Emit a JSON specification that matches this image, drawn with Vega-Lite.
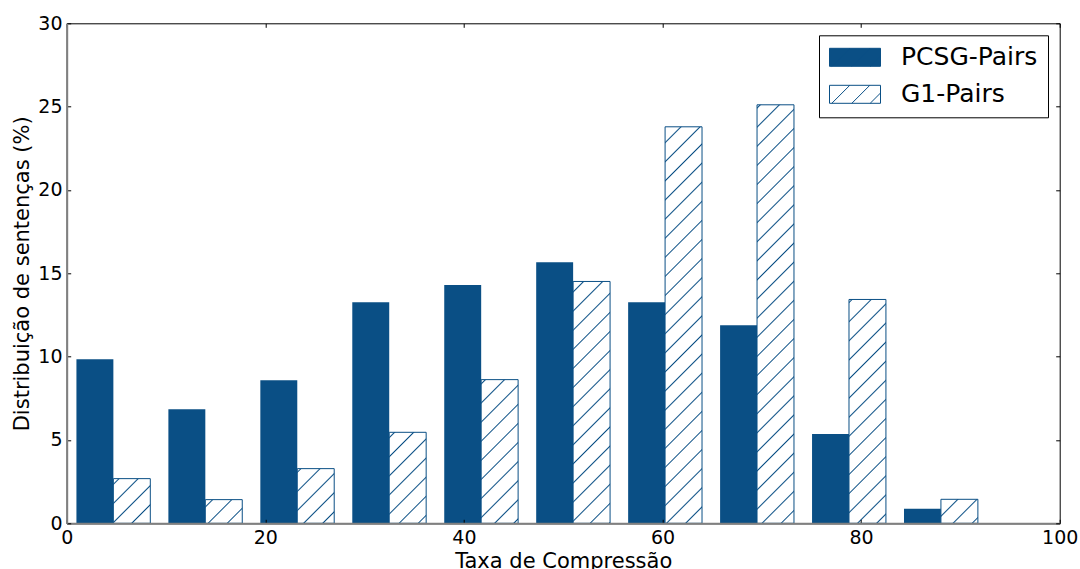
{
"$schema":"https://vega.github.io/schema/vega-lite/v6.json",
"width":993,"height":500,
"autosize":{"type":"none"},
"padding":{"left":66.7,"top":23.3,"right":20.3,"bottom":45.7},
"background":"white",
"config":{"view":{"stroke":"black","strokeWidth":1},"font":"DejaVu Sans","axis":{"grid":false}},
"data":{"values":[
{"serie":"PCSG-Pairs","bin":0,"inicio":0.98,"fim":4.70,"valor":9.84},
{"serie":"PCSG-Pairs","bin":1,"inicio":10.24,"fim":13.96,"valor":6.84},
{"serie":"PCSG-Pairs","bin":2,"inicio":19.50,"fim":23.22,"valor":8.58},
{"serie":"PCSG-Pairs","bin":3,"inicio":28.76,"fim":32.48,"valor":13.26},
{"serie":"PCSG-Pairs","bin":4,"inicio":38.02,"fim":41.74,"valor":14.30},
{"serie":"PCSG-Pairs","bin":5,"inicio":47.28,"fim":51.00,"valor":15.67},
{"serie":"PCSG-Pairs","bin":6,"inicio":56.54,"fim":60.26,"valor":13.27},
{"serie":"PCSG-Pairs","bin":7,"inicio":65.80,"fim":69.52,"valor":11.88},
{"serie":"PCSG-Pairs","bin":8,"inicio":75.06,"fim":78.78,"valor":5.36},
{"serie":"PCSG-Pairs","bin":9,"inicio":84.32,"fim":88.04,"valor":0.88},
{"serie":"G1-Pairs","bin":0,"inicio":4.70,"fim":8.42,"valor":2.68},
{"serie":"G1-Pairs","bin":1,"inicio":13.96,"fim":17.68,"valor":1.42},
{"serie":"G1-Pairs","bin":2,"inicio":23.22,"fim":26.94,"valor":3.28},
{"serie":"G1-Pairs","bin":3,"inicio":32.48,"fim":36.20,"valor":5.46},
{"serie":"G1-Pairs","bin":4,"inicio":41.74,"fim":45.46,"valor":8.62},
{"serie":"G1-Pairs","bin":5,"inicio":51.00,"fim":54.72,"valor":14.51},
{"serie":"G1-Pairs","bin":6,"inicio":60.26,"fim":63.98,"valor":23.79},
{"serie":"G1-Pairs","bin":7,"inicio":69.52,"fim":73.24,"valor":25.11},
{"serie":"G1-Pairs","bin":8,"inicio":78.78,"fim":82.50,"valor":13.43},
{"serie":"G1-Pairs","bin":9,"inicio":88.04,"fim":91.76,"valor":1.44}
]},
"layer":[
{
"transform":[{"filter":"datum.serie === 'PCSG-Pairs'"}],
"mark":{"type":"bar","strokeWidth":0},
"encoding":{
"x":{"field":"inicio","type":"quantitative","scale":{"domain":[0,100],"nice":false,"zero":false},
 "axis":{"orient":"bottom","values":[0,20,40,60,80,100],"format":"d","title":"Taxa de Compressão","grid":false,"domainColor":"#808080","domainWidth":2,"tickColor":"black","tickSize":-4,"tickWidth":1,"labelPadding":9.5,"labelFont":"DejaVu Sans","labelFontSize":19,"labelColor":"black","labelFlush":false,"labelOverlap":false,"titleFont":"DejaVu Sans","titleFontSize":21,"titleFontWeight":"normal","titleColor":"black","titleX":496.5,"titleY":43.7,"titleBaseline":"alphabetic","titleAlign":"center","zindex":1}},
"x2":{"field":"fim"},
"y":{"field":"valor","type":"quantitative","scale":{"domain":[0,30],"nice":false},
 "axis":{"orient":"left","values":[0,5,10,15,20,25,30],"format":"d","title":"Distribuição de sentenças (%)","grid":false,"domainColor":"#808080","domainWidth":2,"tickColor":"black","tickSize":-4,"tickWidth":1,"labelPadding":8.7,"labelFont":"DejaVu Sans","labelFontSize":19,"labelColor":"black","labelFlush":false,"labelOverlap":false,"titleFont":"DejaVu Sans","titleFontSize":21,"titleFontWeight":"normal","titleColor":"black","titleX":-38,"titleY":250,"titleAngle":-90,"titleBaseline":"alphabetic","titleAlign":"center","zindex":1}},
"y2":{"datum":0},
"color":{"field":"serie","type":"nominal","scale":{"domain":["PCSG-Pairs","G1-Pairs"],"range":["#0a4f85","#ffffff"]},
 "legend":{"orient":"none","legendX":752.3,"legendY":12,"title":null,"padding":10,"strokeColor":"black","fillColor":"white","cornerRadius":0,"labelFont":"DejaVu Sans","labelFontSize":25,"labelColor":"black","labelOffset":20,"rowPadding":12,"clipHeight":24,"symbolType":"M-1,-0.353H1V0.353H-1Z M-0.91,0.353L-0.204,-0.353 M-0.125,0.353L0.581,-0.353 M0.596,0.353L1,-0.051","symbolSize":2601,"symbolStrokeWidth":1,"symbolOffset":0,"symbolStrokeColor":"#0a4f85"}}
}
},
{
"transform":[{"filter":"datum.serie === 'G1-Pairs'"}],
"mark":{"type":"bar","stroke":"#0a4f85","strokeWidth":1},
"encoding":{
"x":{"field":"inicio","type":"quantitative","scale":{"domain":[0,100],"nice":false,"zero":false},
 "axis":{"orient":"top","values":[0,20,40,60,80,100],"labels":false,"domain":false,"title":null,"grid":false,"tickColor":"black","tickSize":-4,"tickWidth":1,"zindex":1}},
"x2":{"field":"fim"},
"y":{"field":"valor","type":"quantitative","scale":{"domain":[0,30],"nice":false},
 "axis":{"orient":"right","values":[0,5,10,15,20,25,30],"labels":false,"domain":false,"title":null,"grid":false,"tickColor":"black","tickSize":-4,"tickWidth":1,"zindex":1}},
"y2":{"datum":0},
"fill":{"condition":[
{"test":"datum.bin === 0","value":{"gradient":"linear","x1":-0.17363,"y1":-0.20995,"x2":5.0765,"y2":6.1384,"stops":[
{"offset":0.042,"color":"#fff"},{"offset":0.045,"color":"#0a4f85"},{"offset":0.048,"color":"#fff"},
{"offset":0.082,"color":"#fff"},{"offset":0.085,"color":"#0a4f85"},{"offset":0.088,"color":"#fff"},
{"offset":0.122,"color":"#fff"},{"offset":0.125,"color":"#0a4f85"},{"offset":0.128,"color":"#fff"},
{"offset":0.162,"color":"#fff"},{"offset":0.165,"color":"#0a4f85"},{"offset":0.168,"color":"#fff"},
{"offset":0.202,"color":"#fff"},{"offset":0.205,"color":"#0a4f85"},{"offset":0.208,"color":"#fff"}]}},
{"test":"datum.bin === 1","value":{"gradient":"linear","x1":-0.27145,"y1":-0.17392,"x2":8.8931,"y2":5.6977,"stops":[
{"offset":0.042,"color":"#fff"},{"offset":0.045,"color":"#0a4f85"},{"offset":0.048,"color":"#fff"},
{"offset":0.082,"color":"#fff"},{"offset":0.085,"color":"#0a4f85"},{"offset":0.088,"color":"#fff"},
{"offset":0.122,"color":"#fff"},{"offset":0.125,"color":"#0a4f85"},{"offset":0.128,"color":"#fff"}]}},
{"test":"datum.bin === 2","value":{"gradient":"linear","x1":-0.15101,"y1":-0.22348,"x2":3.9011,"y2":5.7731,"stops":[
{"offset":0.042,"color":"#fff"},{"offset":0.045,"color":"#0a4f85"},{"offset":0.048,"color":"#fff"},
{"offset":0.082,"color":"#fff"},{"offset":0.085,"color":"#0a4f85"},{"offset":0.088,"color":"#fff"},
{"offset":0.122,"color":"#fff"},{"offset":0.125,"color":"#0a4f85"},{"offset":0.128,"color":"#fff"},
{"offset":0.162,"color":"#fff"},{"offset":0.165,"color":"#0a4f85"},{"offset":0.168,"color":"#fff"},
{"offset":0.202,"color":"#fff"},{"offset":0.205,"color":"#0a4f85"},{"offset":0.208,"color":"#fff"}]}},
{"test":"datum.bin === 3","value":{"gradient":"linear","x1":-0.061714,"y1":-0.15203,"x2":1.767,"y2":4.3529,"stops":[
{"offset":0.042,"color":"#fff"},{"offset":0.045,"color":"#0a4f85"},{"offset":0.048,"color":"#fff"},
{"offset":0.082,"color":"#fff"},{"offset":0.085,"color":"#0a4f85"},{"offset":0.088,"color":"#fff"},
{"offset":0.122,"color":"#fff"},{"offset":0.125,"color":"#0a4f85"},{"offset":0.128,"color":"#fff"},
{"offset":0.162,"color":"#fff"},{"offset":0.165,"color":"#0a4f85"},{"offset":0.168,"color":"#fff"},
{"offset":0.202,"color":"#fff"},{"offset":0.205,"color":"#0a4f85"},{"offset":0.208,"color":"#fff"},
{"offset":0.242,"color":"#fff"},{"offset":0.245,"color":"#0a4f85"},{"offset":0.248,"color":"#fff"},
{"offset":0.282,"color":"#fff"},{"offset":0.285,"color":"#0a4f85"},{"offset":0.288,"color":"#fff"}]}},
{"test":"datum.bin === 4","value":{"gradient":"linear","x1":-0.028873,"y1":-0.11229,"x2":0.77272,"y2":3.0053,"stops":[
{"offset":0.042,"color":"#fff"},{"offset":0.045,"color":"#0a4f85"},{"offset":0.048,"color":"#fff"},
{"offset":0.082,"color":"#fff"},{"offset":0.085,"color":"#0a4f85"},{"offset":0.088,"color":"#fff"},
{"offset":0.122,"color":"#fff"},{"offset":0.125,"color":"#0a4f85"},{"offset":0.128,"color":"#fff"},
{"offset":0.162,"color":"#fff"},{"offset":0.165,"color":"#0a4f85"},{"offset":0.168,"color":"#fff"},
{"offset":0.202,"color":"#fff"},{"offset":0.205,"color":"#0a4f85"},{"offset":0.208,"color":"#fff"},
{"offset":0.242,"color":"#fff"},{"offset":0.245,"color":"#0a4f85"},{"offset":0.248,"color":"#fff"},
{"offset":0.282,"color":"#fff"},{"offset":0.285,"color":"#0a4f85"},{"offset":0.288,"color":"#fff"},
{"offset":0.322,"color":"#fff"},{"offset":0.325,"color":"#0a4f85"},{"offset":0.328,"color":"#fff"},
{"offset":0.362,"color":"#fff"},{"offset":0.365,"color":"#0a4f85"},{"offset":0.368,"color":"#fff"},
{"offset":0.402,"color":"#fff"},{"offset":0.405,"color":"#0a4f85"},{"offset":0.408,"color":"#fff"}]}},
{"test":"datum.bin === 5","value":{"gradient":"linear","x1":-0.0067806,"y1":-0.044391,"x2":0.28795,"y2":1.88509,"stops":[
{"offset":0.042,"color":"#fff"},{"offset":0.045,"color":"#0a4f85"},{"offset":0.048,"color":"#fff"},
{"offset":0.082,"color":"#fff"},{"offset":0.085,"color":"#0a4f85"},{"offset":0.088,"color":"#fff"},
{"offset":0.122,"color":"#fff"},{"offset":0.125,"color":"#0a4f85"},{"offset":0.128,"color":"#fff"},
{"offset":0.162,"color":"#fff"},{"offset":0.165,"color":"#0a4f85"},{"offset":0.168,"color":"#fff"},
{"offset":0.202,"color":"#fff"},{"offset":0.205,"color":"#0a4f85"},{"offset":0.208,"color":"#fff"},
{"offset":0.242,"color":"#fff"},{"offset":0.245,"color":"#0a4f85"},{"offset":0.248,"color":"#fff"},
{"offset":0.282,"color":"#fff"},{"offset":0.285,"color":"#0a4f85"},{"offset":0.288,"color":"#fff"},
{"offset":0.322,"color":"#fff"},{"offset":0.325,"color":"#0a4f85"},{"offset":0.328,"color":"#fff"},
{"offset":0.362,"color":"#fff"},{"offset":0.365,"color":"#0a4f85"},{"offset":0.368,"color":"#fff"},
{"offset":0.402,"color":"#fff"},{"offset":0.405,"color":"#0a4f85"},{"offset":0.408,"color":"#fff"},
{"offset":0.442,"color":"#fff"},{"offset":0.445,"color":"#0a4f85"},{"offset":0.448,"color":"#fff"},
{"offset":0.482,"color":"#fff"},{"offset":0.485,"color":"#0a4f85"},{"offset":0.488,"color":"#fff"},
{"offset":0.522,"color":"#fff"},{"offset":0.525,"color":"#0a4f85"},{"offset":0.528,"color":"#fff"},
{"offset":0.562,"color":"#fff"},{"offset":0.565,"color":"#0a4f85"},{"offset":0.568,"color":"#fff"},
{"offset":0.602,"color":"#fff"},{"offset":0.605,"color":"#0a4f85"},{"offset":0.608,"color":"#fff"}]}},
{"test":"datum.bin === 6","value":{"gradient":"linear","x1":-0.0012976,"y1":-0.013928,"x2":0.1099345,"y2":1.179996,"stops":[
{"offset":0.042,"color":"#fff"},{"offset":0.045,"color":"#0a4f85"},{"offset":0.048,"color":"#fff"},
{"offset":0.082,"color":"#fff"},{"offset":0.085,"color":"#0a4f85"},{"offset":0.088,"color":"#fff"},
{"offset":0.122,"color":"#fff"},{"offset":0.125,"color":"#0a4f85"},{"offset":0.128,"color":"#fff"},
{"offset":0.162,"color":"#fff"},{"offset":0.165,"color":"#0a4f85"},{"offset":0.168,"color":"#fff"},
{"offset":0.202,"color":"#fff"},{"offset":0.205,"color":"#0a4f85"},{"offset":0.208,"color":"#fff"},
{"offset":0.242,"color":"#fff"},{"offset":0.245,"color":"#0a4f85"},{"offset":0.248,"color":"#fff"},
{"offset":0.282,"color":"#fff"},{"offset":0.285,"color":"#0a4f85"},{"offset":0.288,"color":"#fff"},
{"offset":0.322,"color":"#fff"},{"offset":0.325,"color":"#0a4f85"},{"offset":0.328,"color":"#fff"},
{"offset":0.362,"color":"#fff"},{"offset":0.365,"color":"#0a4f85"},{"offset":0.368,"color":"#fff"},
{"offset":0.402,"color":"#fff"},{"offset":0.405,"color":"#0a4f85"},{"offset":0.408,"color":"#fff"},
{"offset":0.442,"color":"#fff"},{"offset":0.445,"color":"#0a4f85"},{"offset":0.448,"color":"#fff"},
{"offset":0.482,"color":"#fff"},{"offset":0.485,"color":"#0a4f85"},{"offset":0.488,"color":"#fff"},
{"offset":0.522,"color":"#fff"},{"offset":0.525,"color":"#0a4f85"},{"offset":0.528,"color":"#fff"},
{"offset":0.562,"color":"#fff"},{"offset":0.565,"color":"#0a4f85"},{"offset":0.568,"color":"#fff"},
{"offset":0.602,"color":"#fff"},{"offset":0.605,"color":"#0a4f85"},{"offset":0.608,"color":"#fff"},
{"offset":0.642,"color":"#fff"},{"offset":0.645,"color":"#0a4f85"},{"offset":0.648,"color":"#fff"},
{"offset":0.682,"color":"#fff"},{"offset":0.685,"color":"#0a4f85"},{"offset":0.688,"color":"#fff"},
{"offset":0.722,"color":"#fff"},{"offset":0.725,"color":"#0a4f85"},{"offset":0.728,"color":"#fff"},
{"offset":0.762,"color":"#fff"},{"offset":0.765,"color":"#0a4f85"},{"offset":0.768,"color":"#fff"},
{"offset":0.802,"color":"#fff"},{"offset":0.805,"color":"#0a4f85"},{"offset":0.808,"color":"#fff"},
{"offset":0.842,"color":"#fff"},{"offset":0.845,"color":"#0a4f85"},{"offset":0.848,"color":"#fff"},
{"offset":0.882,"color":"#fff"},{"offset":0.885,"color":"#0a4f85"},{"offset":0.888,"color":"#fff"}]}},
{"test":"datum.bin === 7","value":{"gradient":"linear","x1":-0.0038137,"y1":-0.043206,"x2":0.0961193,"y2":1.088953,"stops":[
{"offset":0.042,"color":"#fff"},{"offset":0.045,"color":"#0a4f85"},{"offset":0.048,"color":"#fff"},
{"offset":0.082,"color":"#fff"},{"offset":0.085,"color":"#0a4f85"},{"offset":0.088,"color":"#fff"},
{"offset":0.122,"color":"#fff"},{"offset":0.125,"color":"#0a4f85"},{"offset":0.128,"color":"#fff"},
{"offset":0.162,"color":"#fff"},{"offset":0.165,"color":"#0a4f85"},{"offset":0.168,"color":"#fff"},
{"offset":0.202,"color":"#fff"},{"offset":0.205,"color":"#0a4f85"},{"offset":0.208,"color":"#fff"},
{"offset":0.242,"color":"#fff"},{"offset":0.245,"color":"#0a4f85"},{"offset":0.248,"color":"#fff"},
{"offset":0.282,"color":"#fff"},{"offset":0.285,"color":"#0a4f85"},{"offset":0.288,"color":"#fff"},
{"offset":0.322,"color":"#fff"},{"offset":0.325,"color":"#0a4f85"},{"offset":0.328,"color":"#fff"},
{"offset":0.362,"color":"#fff"},{"offset":0.365,"color":"#0a4f85"},{"offset":0.368,"color":"#fff"},
{"offset":0.402,"color":"#fff"},{"offset":0.405,"color":"#0a4f85"},{"offset":0.408,"color":"#fff"},
{"offset":0.442,"color":"#fff"},{"offset":0.445,"color":"#0a4f85"},{"offset":0.448,"color":"#fff"},
{"offset":0.482,"color":"#fff"},{"offset":0.485,"color":"#0a4f85"},{"offset":0.488,"color":"#fff"},
{"offset":0.522,"color":"#fff"},{"offset":0.525,"color":"#0a4f85"},{"offset":0.528,"color":"#fff"},
{"offset":0.562,"color":"#fff"},{"offset":0.565,"color":"#0a4f85"},{"offset":0.568,"color":"#fff"},
{"offset":0.602,"color":"#fff"},{"offset":0.605,"color":"#0a4f85"},{"offset":0.608,"color":"#fff"},
{"offset":0.642,"color":"#fff"},{"offset":0.645,"color":"#0a4f85"},{"offset":0.648,"color":"#fff"},
{"offset":0.682,"color":"#fff"},{"offset":0.685,"color":"#0a4f85"},{"offset":0.688,"color":"#fff"},
{"offset":0.722,"color":"#fff"},{"offset":0.725,"color":"#0a4f85"},{"offset":0.728,"color":"#fff"},
{"offset":0.762,"color":"#fff"},{"offset":0.765,"color":"#0a4f85"},{"offset":0.768,"color":"#fff"},
{"offset":0.802,"color":"#fff"},{"offset":0.805,"color":"#0a4f85"},{"offset":0.808,"color":"#fff"},
{"offset":0.842,"color":"#fff"},{"offset":0.845,"color":"#0a4f85"},{"offset":0.848,"color":"#fff"},
{"offset":0.882,"color":"#fff"},{"offset":0.885,"color":"#0a4f85"},{"offset":0.888,"color":"#fff"},
{"offset":0.922,"color":"#fff"},{"offset":0.925,"color":"#0a4f85"},{"offset":0.928,"color":"#fff"},
{"offset":0.962,"color":"#fff"},{"offset":0.965,"color":"#0a4f85"},{"offset":0.968,"color":"#fff"}]}},
{"test":"datum.bin === 8","value":{"gradient":"linear","x1":-0.013165,"y1":-0.07977,"x2":0.329565,"y2":1.996955,"stops":[
{"offset":0.042,"color":"#fff"},{"offset":0.045,"color":"#0a4f85"},{"offset":0.048,"color":"#fff"},
{"offset":0.082,"color":"#fff"},{"offset":0.085,"color":"#0a4f85"},{"offset":0.088,"color":"#fff"},
{"offset":0.122,"color":"#fff"},{"offset":0.125,"color":"#0a4f85"},{"offset":0.128,"color":"#fff"},
{"offset":0.162,"color":"#fff"},{"offset":0.165,"color":"#0a4f85"},{"offset":0.168,"color":"#fff"},
{"offset":0.202,"color":"#fff"},{"offset":0.205,"color":"#0a4f85"},{"offset":0.208,"color":"#fff"},
{"offset":0.242,"color":"#fff"},{"offset":0.245,"color":"#0a4f85"},{"offset":0.248,"color":"#fff"},
{"offset":0.282,"color":"#fff"},{"offset":0.285,"color":"#0a4f85"},{"offset":0.288,"color":"#fff"},
{"offset":0.322,"color":"#fff"},{"offset":0.325,"color":"#0a4f85"},{"offset":0.328,"color":"#fff"},
{"offset":0.362,"color":"#fff"},{"offset":0.365,"color":"#0a4f85"},{"offset":0.368,"color":"#fff"},
{"offset":0.402,"color":"#fff"},{"offset":0.405,"color":"#0a4f85"},{"offset":0.408,"color":"#fff"},
{"offset":0.442,"color":"#fff"},{"offset":0.445,"color":"#0a4f85"},{"offset":0.448,"color":"#fff"},
{"offset":0.482,"color":"#fff"},{"offset":0.485,"color":"#0a4f85"},{"offset":0.488,"color":"#fff"},
{"offset":0.522,"color":"#fff"},{"offset":0.525,"color":"#0a4f85"},{"offset":0.528,"color":"#fff"},
{"offset":0.562,"color":"#fff"},{"offset":0.565,"color":"#0a4f85"},{"offset":0.568,"color":"#fff"}]}},
{"test":"datum.bin === 9","value":{"gradient":"linear","x1":-0.086165,"y1":-0.055982,"x2":9.0034,"y2":5.84953,"stops":[
{"offset":0.042,"color":"#fff"},{"offset":0.045,"color":"#0a4f85"},{"offset":0.048,"color":"#fff"},
{"offset":0.082,"color":"#fff"},{"offset":0.085,"color":"#0a4f85"},{"offset":0.088,"color":"#fff"},
{"offset":0.122,"color":"#fff"},{"offset":0.125,"color":"#0a4f85"},{"offset":0.128,"color":"#fff"}]}}
],"value":"#ffffff"}
}
}
],
"resolve":{"axis":{"x":"independent","y":"independent"}}
}
